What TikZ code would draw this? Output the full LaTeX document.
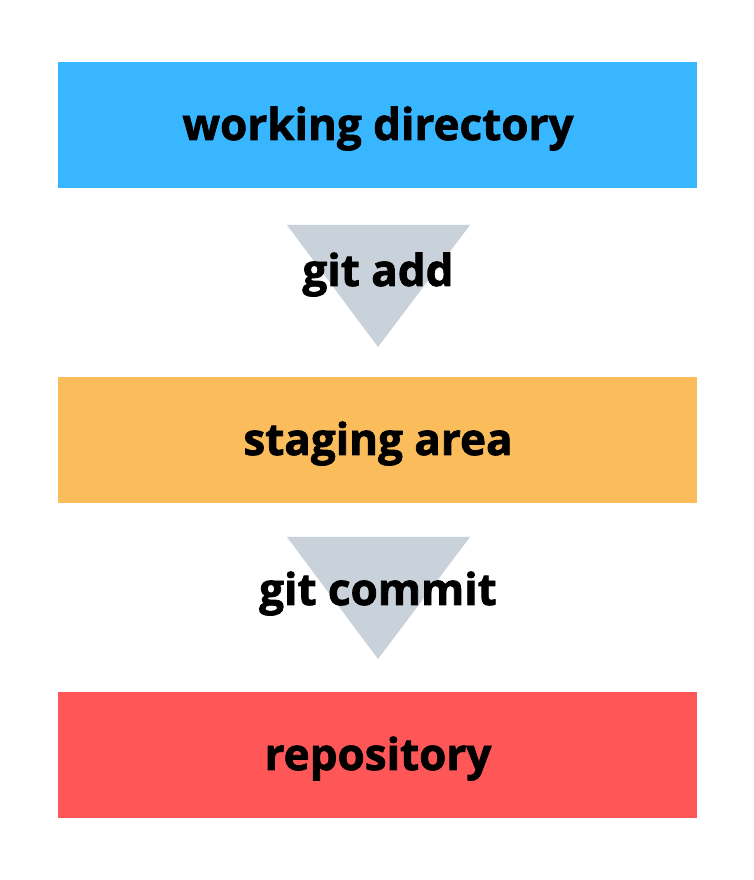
\documentclass[tikz,border=0pt]{standalone}
\usepackage{fontspec}
\setmainfont{Open Sans}[BoldFeatures={FakeBold=1.7}]
\definecolor{wdblue}{HTML}{38B6FF}
\definecolor{sgorange}{HTML}{FBBC5B}
\definecolor{rpred}{HTML}{FF5757}
\definecolor{arrgray}{HTML}{C9D1DB}
\begin{document}
\begin{tikzpicture}[x=1pt,y=1pt,
  stage/.style={minimum width=639pt,minimum height=126pt,inner sep=0pt},
  txt/.style={inner sep=0pt,anchor=base,font=\fontsize{44}{50}\selectfont\bfseries}]
\useasboundingbox (0,0) rectangle (754,880);
\fill[white] (0,0) rectangle (754,880);
\node[stage,fill=wdblue] (wd) at (377.5,755) {};
\node[stage,fill=sgorange] (sa) at (377.5,440) {};
\node[stage,fill=rpred] (rp) at (377.5,125) {};
\node[txt] (wdt) at (378,740) {working directory};
\node[txt] (sat) at (378,425) {staging area};
\node[txt] (rpt) at (378,110) {repository};
\coordinate (t1l) at (287,655);
\coordinate (t1r) at (470,655);
\coordinate (t1a) at (378,533);
\fill[arrgray] (t1l) -- (t1r) -- (t1a) -- cycle;
\coordinate (t2l) at (287,343);
\coordinate (t2r) at (470,343);
\coordinate (t2a) at (378,221);
\fill[arrgray] (t2l) -- (t2r) -- (t2a) -- cycle;
\node[txt] (add) at (378,594) {git add};
\node[txt] (commit) at (378,275) {git commit};
\end{tikzpicture}
\end{document}
